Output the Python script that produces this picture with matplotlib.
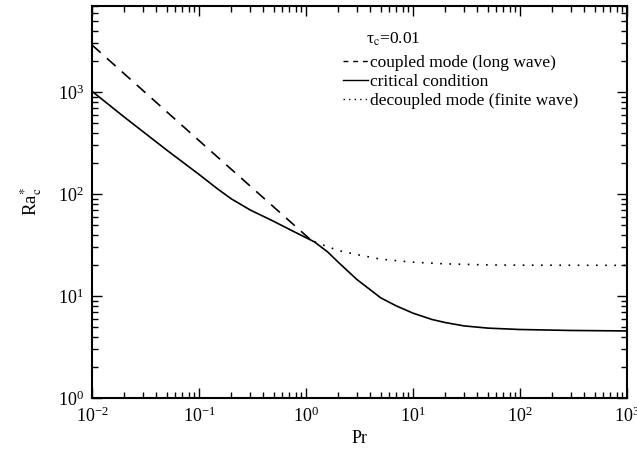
import numpy as np
import matplotlib
matplotlib.use("Agg")
import matplotlib.pyplot as plt
from matplotlib.lines import Line2D
from matplotlib.ticker import LogLocator, LogFormatterMathtext, NullFormatter

plt.rcParams["font.family"] = "serif"
plt.rcParams["font.serif"] = ["Liberation Serif", "DejaVu Serif"]
plt.rcParams["mathtext.fontset"] = "stix"

# values
pr_coupled = [0.01, 0.1, 1.2]
ra_coupled = [2900, 335, 33]

pr_critical = [0.01, 0.02, 0.05, 0.1, 0.15, 0.2, 0.3, 0.5, 0.8, 1.2, 1.6, 2.0,
               3, 4, 5, 7, 10, 15, 20, 30, 50, 100, 300, 1000]
ra_critical = [1020, 570, 270, 156, 112, 90, 70, 54, 42, 34, 27, 21.5,
               14.5, 11.5, 9.6, 8.0, 6.8, 5.9, 5.5, 5.1, 4.85, 4.7, 4.6, 4.55]

pr_decoupled = [1.2, 2, 3, 5, 10, 20, 50, 100, 1000]
ra_decoupled = [34, 28, 25.5, 23, 21.5, 20.7, 20.2, 20.1, 20]

fig = plt.figure(figsize=(6.37, 4.57), dpi=100)
ax = fig.add_axes([0.1444, 0.129, 0.8399, 0.858])

ax.plot(pr_coupled, ra_coupled, color="black", lw=1.2, dashes=(7, 5))
ax.plot(pr_critical, ra_critical, color="black", lw=1.2)
ax.plot(pr_decoupled, ra_decoupled, color="black", lw=1.2, dashes=(1, 4.5))

ax.set_xscale("log")
ax.set_yscale("log")
ax.set_xlim(0.01, 1000)
ax.set_ylim(1, 7000)

for a in (ax.xaxis, ax.yaxis):
    a.set_major_locator(LogLocator(base=10, numticks=20))
    a.set_minor_locator(LogLocator(base=10, subs=np.arange(2, 10), numticks=20))
    a.set_major_formatter(LogFormatterMathtext())
    a.set_minor_formatter(NullFormatter())

ax.tick_params(which="both", direction="in", top=True, right=True, width=1.0)
ax.tick_params(which="major", length=7, labelsize=13, pad=6)
ax.tick_params(which="minor", length=4)
for s in ax.spines.values():
    s.set_linewidth(1.5)

ax.set_xlabel("Pr", fontsize=13, labelpad=3)
ax.set_ylabel(r"Ra$^{*}_{\mathrm{c}}$", fontsize=13.5, labelpad=10)

handles = [
    Line2D([], [], color="black", lw=1.0, dashes=(3.5, 3.5)),
    Line2D([], [], color="black", lw=1.0),
    Line2D([], [], color="black", lw=1.0, dashes=(1, 3.0)),
]
labels = ["coupled mode (long wave)", "critical condition", "decoupled mode (finite wave)"]
leg = ax.legend(handles, labels, loc="upper left", bbox_to_anchor=(0.47, 0.874),
                frameon=False, fontsize=12.5, handlelength=1.4, handletextpad=0.15,
                labelspacing=0.15, borderpad=0, borderaxespad=0)
ax.text(0.512, 0.892, "τ$_{\\mathrm{c}}$=0.01", transform=ax.transAxes,
        fontsize=12.5, va="bottom", ha="left")

fig.savefig("out.png", dpi=100)
